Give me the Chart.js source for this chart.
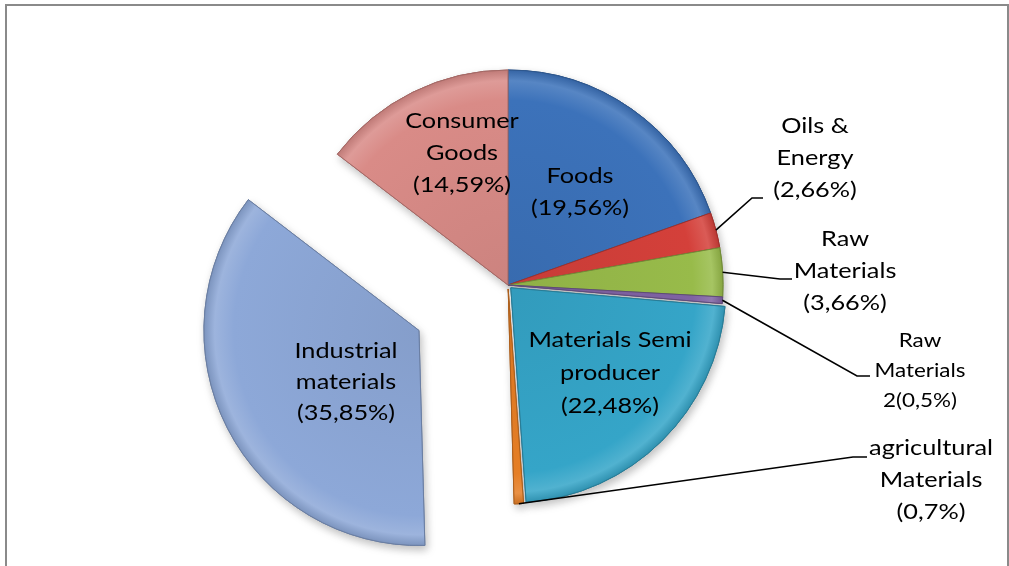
<!DOCTYPE html>
<html>
<head>
<meta charset="utf-8">
<script src="https://cdn.jsdelivr.net/npm/chart.js@4/dist/chart.umd.min.js"></script>
<style>
  html, body { margin: 0; padding: 0; background: #fff; }
  #wrap { position: relative; width: 1009px; height: 566px; overflow: hidden; }
  #frame { position: absolute; left: 5px; top: 4px; width: 1004px; height: 700px; border: 2px solid #8a8a8a; box-sizing: border-box; }
  canvas { position: absolute; left: 0; top: 0; }
</style>
</head>
<body>
<div id="wrap">
  <div id="frame"></div>
  <canvas id="c" width="1009" height="566"></canvas>
</div>
<script>
// ---- data ----
const categories = ["Foods", "Oils & Energy", "Raw Materials", "Raw Materials 2",
  "Materials Semi producer", "agricultural Materials", "Industrial materials", "Consumer Goods"];
const values = [19.56, 2.66, 3.66, 0.5, 22.48, 0.7, 35.85, 14.59];
// label lines; {v} is replaced by the value with a decimal comma
const labelLines = [
  ["Foods", "({v}%)"],
  ["Oils &", "Energy", "({v}%)"],
  ["Raw", "Materials", "({v}%)"],
  ["Raw", "Materials", "2({v}%)"],
  ["Materials Semi", "producer", "({v}%)"],
  ["agricultural", "Materials", "({v}%)"],
  ["Industrial", "materials", "({v}%)"],
  ["Consumer", "Goods", "({v}%)"]
];

// ---- style / layout ----
const colors = ["#3C72BA", "#D4403A", "#98BB4A", "#7F62A3", "#35A5C8", "#E57E25", "#8DA8D8", "#D98B87"];
const explode = [0, 0, 0, 0, 4, 4, 100, 0];
const RADIUS = 215;
// label placement: center x, first baseline, line height, font size
const labelPos = [
  [580, 183, 32, 22],
  [815, 133, 32, 22],
  [845, 246, 32, 22],
  [920, 347, 30, 19.5],
  [610, 347, 33, 22],
  [931, 455, 32, 22],
  [346, 358, 31, 22],
  [462, 128, 32, 22]
];
// leader lines: elbow and end points (null = no leader)
const leaders = [null, [[752,198],[763,198]], [[780,279],[792,279]], [[857,376],[870,376]], null, [[853,457],[867,457]], null, null];
const TEXT_SX = 1.15;

function shade(hex, f) {
  const n = parseInt(hex.slice(1), 16);
  let r = (n >> 16) & 255, g = (n >> 8) & 255, b = n & 255;
  const t = f < 0 ? 0 : 255, p = Math.abs(f);
  r = Math.round(r + (t - r) * p); g = Math.round(g + (t - g) * p); b = Math.round(b + (t - b) * p);
  return `rgb(${r},${g},${b})`;
}

function bevelFill(c) {
  const base = colors[c.dataIndex];
  const ca = c.chart.chartArea;
  if (!ca) return base;
  const cx = (ca.left + ca.right) / 2, cy = (ca.top + ca.bottom) / 2;
  const g = c.chart.ctx.createRadialGradient(cx, cy, 0, cx, cy, RADIUS);
  g.addColorStop(0, shade(base, -0.06));
  g.addColorStop(0.86, base);
  g.addColorStop(0.95, shade(base, 0.14));
  g.addColorStop(1, shade(base, -0.12));
  return g;
}

function offsetOf(arc, i) {
  const mid = (arc.startAngle + arc.endAngle) / 2;
  return [Math.cos(mid) * explode[i], Math.sin(mid) * explode[i]];
}

const explodePlugin = {
  id: 'explodeDraw',
  beforeDatasetDraw(chart, args) {
    const ctx = chart.ctx;
    const arcs = args.meta.data;
    // pass 1: shadow
    ctx.save();
    ctx.shadowColor = 'rgba(0,0,0,0.25)';
    ctx.shadowBlur = 8;
    ctx.shadowOffsetX = 2;
    ctx.shadowOffsetY = 4;
    arcs.forEach((arc, i) => {
      const [dx, dy] = offsetOf(arc, i);
      ctx.save(); ctx.translate(dx, dy); arc.draw(ctx, chart.chartArea); ctx.restore();
    });
    ctx.restore();
    // pass 2: clean fills
    arcs.forEach((arc, i) => {
      const [dx, dy] = offsetOf(arc, i);
      ctx.save(); ctx.translate(dx, dy); arc.draw(ctx, chart.chartArea); ctx.restore();
    });
    return false;
  },
  afterDatasetsDraw(chart) {
    const ctx = chart.ctx;
    const arcs = chart.getDatasetMeta(0).data;
    // leader lines
    ctx.save();
    ctx.strokeStyle = '#000';
    ctx.lineWidth = 1.6;
    arcs.forEach((arc, i) => {
      const L = leaders[i];
      if (!L) return;
      const [dx, dy] = offsetOf(arc, i);
      const mid = (arc.startAngle + arc.endAngle) / 2;
      const sx = arc.x + dx + Math.cos(mid) * arc.outerRadius;
      const sy = arc.y + dy + Math.sin(mid) * arc.outerRadius;
      ctx.beginPath();
      ctx.moveTo(sx, sy);
      ctx.lineTo(L[0][0], L[0][1]);
      ctx.lineTo(L[1][0], L[1][1]);
      ctx.stroke();
    });
    ctx.restore();
    // labels
    ctx.save();
    ctx.fillStyle = '#000';
    ctx.textAlign = 'center';
    ctx.textBaseline = 'alphabetic';
    labelLines.forEach((lines, i) => {
      const [cx, y0, lh, fs] = labelPos[i];
      const vtxt = String(values[i]).replace('.', ',');
      ctx.font = `${fs}px Lato, "Open Sans", sans-serif`;
      lines.forEach((ln, k) => {
        ctx.save();
        ctx.translate(cx, y0 + k * lh);
        ctx.scale(TEXT_SX, 1);
        ctx.fillText(ln.replace('{v}', vtxt), 0, 0);
        ctx.restore();
      });
    });
    ctx.restore();
  }
};

new Chart(document.getElementById('c'), {
  type: 'pie',
  data: {
    labels: categories,
    datasets: [{
      data: values,
      backgroundColor: bevelFill,
      borderColor: colors.map(c => shade(c, -0.25)),
      borderWidth: 1
    }]
  },
  options: {
    responsive: false,
    animation: false,
    radius: RADIUS,
    layout: { padding: { left: 7, right: 0, top: 4, bottom: 0 } },
    plugins: { legend: { display: false }, tooltip: { enabled: false }, title: { display: false } }
  },
  plugins: [explodePlugin]
});
</script>
</body>
</html>
